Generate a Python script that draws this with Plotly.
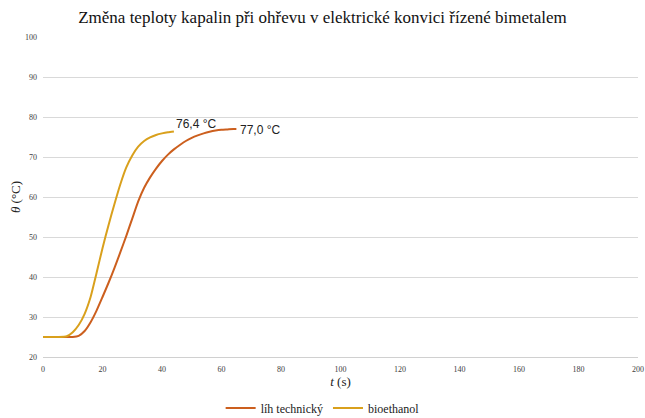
import plotly.graph_objects as go

# Data
t_lih = [0, 5, 10, 12, 14, 16, 18, 20, 22, 24, 26, 28, 30, 32, 34, 36, 38, 40, 42, 44,
         46, 48, 50, 52, 54, 56, 58, 60, 62, 64, 65]
theta_lih = [25, 25, 25, 25.3, 26.5, 28.7, 31.6, 35.0, 38.5, 42.2, 46.2, 50.3, 54.6, 58.9, 62.3,
             64.9, 67.1, 69.0, 70.6, 71.9, 73.0, 74.0, 74.8, 75.4, 75.9, 76.3, 76.6, 76.8, 76.9, 77.0, 77.0]

t_bio = [0, 5, 8, 10, 12, 14, 16, 18, 20, 22, 24, 26, 28, 30, 32, 34, 36, 38, 40, 42, 44]
theta_bio = [25, 25, 25.2, 26.2, 28.0, 30.8, 35.0, 41.0, 47.2, 52.9, 58.2, 63.2, 67.4, 70.4,
             72.6, 74.0, 74.9, 75.5, 75.9, 76.2, 76.4]

series_names = ["líh technický", "bioethanol"]
end_labels = ["77,0 °C", "76,4 °C"]
x_ticks = list(range(0, 201, 20))
y_ticks = list(range(20, 101, 10))

c_lih = "#CC5F1E"
c_bio = "#D9A01C"

serif = "'Liberation Serif', 'DejaVu Serif', 'Noto Serif', serif"
sans = "'Liberation Sans', 'Open Sans', sans-serif"

fig = go.Figure()
fig.add_trace(go.Scatter(x=t_lih, y=theta_lih, mode="lines", name=series_names[0],
                         line=dict(color=c_lih, width=2, shape="spline", smoothing=0.6)))
fig.add_trace(go.Scatter(x=t_bio, y=theta_bio, mode="lines", name=series_names[1],
                         line=dict(color=c_bio, width=2, shape="spline", smoothing=0.6)))

fig.add_annotation(x=t_lih[-1], y=theta_lih[-1], text=end_labels[0], showarrow=False,
                   xanchor="left", yanchor="middle", xshift=2, yshift=-1,
                   font=dict(family=sans, size=12, color="#222"))
fig.add_annotation(x=t_bio[-1], y=theta_bio[-1], text=end_labels[1], showarrow=False,
                   xanchor="left", yanchor="middle", xshift=0, yshift=7,
                   font=dict(family=sans, size=12, color="#222"))

fig.update_layout(
    width=645, height=418,
    margin=dict(l=43, r=7, t=37, b=61, autoexpand=False),
    paper_bgcolor="white", plot_bgcolor="white",
    title=dict(text="Změna teploty kapalin při ohřevu v elektrické konvici řízené bimetalem",
               x=0.5, xanchor="center", y=0.96, yanchor="middle",
               font=dict(family=serif, size=17, color="#111")),
    xaxis=dict(range=[0, 200], tickvals=x_ticks, showgrid=False, zeroline=False,
               showline=True, linecolor="#D0D0D0", linewidth=1, ticks="",
               ticklabelstandoff=4,
               tickfont=dict(family=serif, size=8, color="#404040"),
               title=dict(text="<i>t</i> (s)", font=dict(family=serif, size=13, color="#222"),
                          standoff=3)),
    yaxis=dict(range=[20, 100], tickvals=y_ticks, showgrid=True, gridcolor="#D9D9D9",
               gridwidth=1, zeroline=False, showline=False, ticks="",
               ticklabelstandoff=5,
               tickfont=dict(family=serif, size=8, color="#404040"),
               title=dict(text="<i>θ</i> (°C)", font=dict(family=serif, size=13, color="#222"),
                          standoff=1)),
    legend=dict(orientation="h", x=0.47, xanchor="center", y=-0.159, yanchor="middle",
                font=dict(family=serif, size=12, color="#222"), itemwidth=30,
                tracegroupgap=0),
    showlegend=True,
)

fig.write_html("out.html", config={"displayModeBar": False},
               post_script="document.body.style.margin='0';")
